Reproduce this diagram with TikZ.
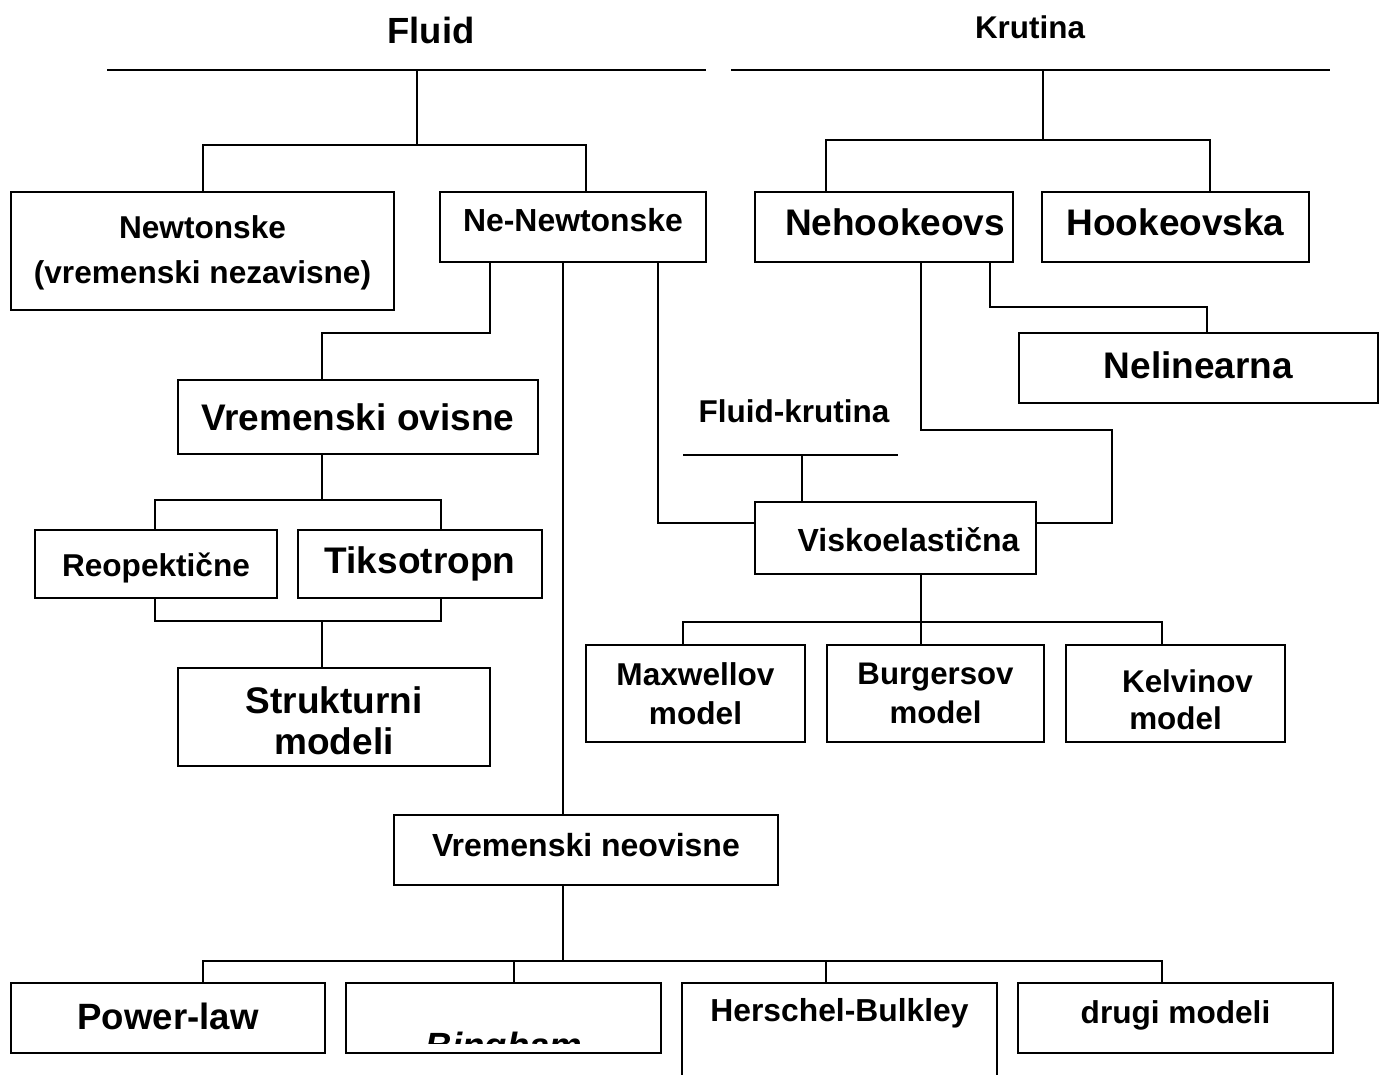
\documentclass[tikz,border=0pt]{standalone}
\usepackage{fontspec}
\setmainfont{Liberation Sans}
\usepackage{tikz}
\usetikzlibrary{positioning}
\newcommand\lift[2]{\raisebox{#1}[\height][\depth]{#2}}
\begin{document}
\begin{tikzpicture}[x=1pt,y=-1pt,
 box/.style={draw,line width=2.6pt,inner sep=0pt,align=center},
 conn/.style={line width=2pt},
 ttl/.style={font=\fontsize{#1}{40}\selectfont\bfseries}]
\useasboundingbox (0,0) rectangle (1383,1075);
\foreach \id/\x/\y/\w/\h/\fs/\ls/\txt in {
newt/202.5/251/383/118/31.6/45/{\lift{-2pt}{Newtonske}\\\lift{-2pt}{(vremenski nezavisne)}},
nenewt/573/227/266/70/31.9/38/{\lift{7pt}{Ne-Newtonske}},
nehook/884/227/258/70/37/41/{\hspace*{22pt}\lift{5pt}{Nehookeovs}},
hook/1175.5/227/267/70/37/41/{\lift{5pt}{Hookeovska}},
nelin/1198.5/368/359/70/37/41/{\lift{3pt}{Nelinearna}},
vo/358/417/360/74/37/41/Vremenski ovisne,
reop/156/564/242/68/31.6/38/{\lift{-4pt}{Reopektične}},
tiks/420/564/244/68/37/41/Tiksotropn,
strukt/334/717/312/98/37/41/{\lift{-4pt}{Strukturni}\\\lift{-4pt}{modeli}},
visko/895.5/538/281/72/32/38/{\hspace*{26pt}\lift{-2pt}{Viskoelastična}},
maxw/695.5/693.5/219/97/31.6/39/{Maxwellov\\model},
burg/935.5/693.5/217/97/31.2/39/{Burgersov\\model},
kelv/1175.5/693.5/219/97/31.4/38/{\hspace*{24pt}\lift{-7pt}{Kelvinov}\\\lift{-6pt}{model}},
vneo/586/850/384/70/32/38/{\lift{5pt}{Vremenski neovisne}},
power/168/1018/314/70/36.6/41/{\lift{2pt}{Power-law}},
bing/503.5/1018/315/70/36.5/41/{},
hb/839.5/1056.5/315/147/31.8/38/{},
drugi/1175.5/1018/315/70/31.6/38/{\lift{3pt}{drugi modeli}}}
\node[box,font=\fontsize{\fs}{\ls}\selectfont\bfseries,minimum width=\w pt,minimum height=\h pt] (\id) at (\x,\y) {\txt};
\node[ttl=36.4] (fluid) at (431,30) {Fluid};
\node[ttl=31.4] (krut) at (1030,27) {Krutina};
\node[ttl=31.5] (fk) at (794,411) {Fluid-krutina};
\node[ttl=31.8] (hbt) at (839.5,1013) {Herschel-Bulkley};
\begin{scope}
\clip (bing.north west) rectangle (661,1043);
\node[font=\fontsize{36.5}{40}\selectfont\bfseries\itshape,anchor=base] (bingt) at (504,1058) {Bingham};
\end{scope}
\coordinate (fL) at (107,70); \coordinate (fR) at (706,70); \coordinate (fj) at (417,145); \coordinate (fr) at (586,145);
\draw[conn] (fL) -- (fR);
\draw[conn] (fj |- fL) -- (fj);
\draw[conn] (newt.north) |- (fr) -- (nenewt.north -| fr);
\coordinate (kL) at (731,70); \coordinate (kR) at (1330,70); \coordinate (kj) at (1043,140);
\coordinate (kl) at (826,140); \coordinate (kr) at (1210,140);
\draw[conn] (kL) -- (kR);
\draw[conn] (kj |- kL) -- (kj);
\draw[conn] (nehook.north -| kl) -- (kl) -- (kr) -- (hook.north -| kr);
\coordinate (hj1) at (990,307); \coordinate (hj2) at (1207,307);
\draw[conn] (nehook.south -| hj1) -- (hj1) -- (hj2) -- (nelin.north -| hj2);
\coordinate (vk1) at (921,430); \coordinate (vk2) at (1112,430); \coordinate (vk3) at (1112,523);
\draw[conn] (nehook.south -| vk1) -- (vk1) -- (vk2) -- (vk3) -- (visko.east |- vk3);
\coordinate (nv1) at (490,333); \coordinate (nv2) at (322,333);
\draw[conn] (nenewt.south -| nv1) -- (nv1) -- (nv2) -- (vo.north -| nv2);
\coordinate (vt) at (322,500); \coordinate (vtL) at (155,500); \coordinate (vtR) at (441,500);
\draw[conn] (vo.south -| vt) -- (vt);
\draw[conn] (reop.north -| vtL) -- (vtL) -- (vtR) -- (tiks.north -| vtR);
\coordinate (vb) at (322,621); \coordinate (vbL) at (155,621); \coordinate (vbR) at (441,621);
\draw[conn] (reop.south -| vbL) -- (vbL) -- (vbR) -- (tiks.south -| vbR);
\draw[conn] (vb) -- (strukt.north -| vb);
\coordinate (nn) at (563,815);
\draw[conn] (nenewt.south -| nn) -- (vneo.north -| nn);
\coordinate (nk) at (658,523);
\draw[conn] (nenewt.south -| nk) -- (nk) -- (visko.west |- nk);
\coordinate (fkL) at (683,455); \coordinate (fkR) at (898,455); \coordinate (fkm) at (802,455);
\draw[conn] (fkL) -- (fkR);
\draw[conn] (fkm) -- (visko.north -| fkm);
\coordinate (vm) at (921,622); \coordinate (vmL) at (683,622); \coordinate (vmR) at (1162,622);
\draw[conn] (visko.south -| vm) -- (burg.north -| vm);
\draw[conn] (maxw.north -| vmL) -- (vmL) -- (vmR) -- (kelv.north -| vmR);
\coordinate (vn) at (563,961); \coordinate (vnL) at (203,961); \coordinate (vnR) at (1162,961);
\draw[conn] (vneo.south -| vn) -- (vn);
\draw[conn] (power.north -| vnL) -- (vnL) -- (vnR) -- (drugi.north -| vnR);
\foreach \n/\x in {bing/514,hb/826}{
\coordinate (t) at (\x,961);
\draw[conn] (t) -- (\n.north -| t);}
\end{tikzpicture}
\end{document}
